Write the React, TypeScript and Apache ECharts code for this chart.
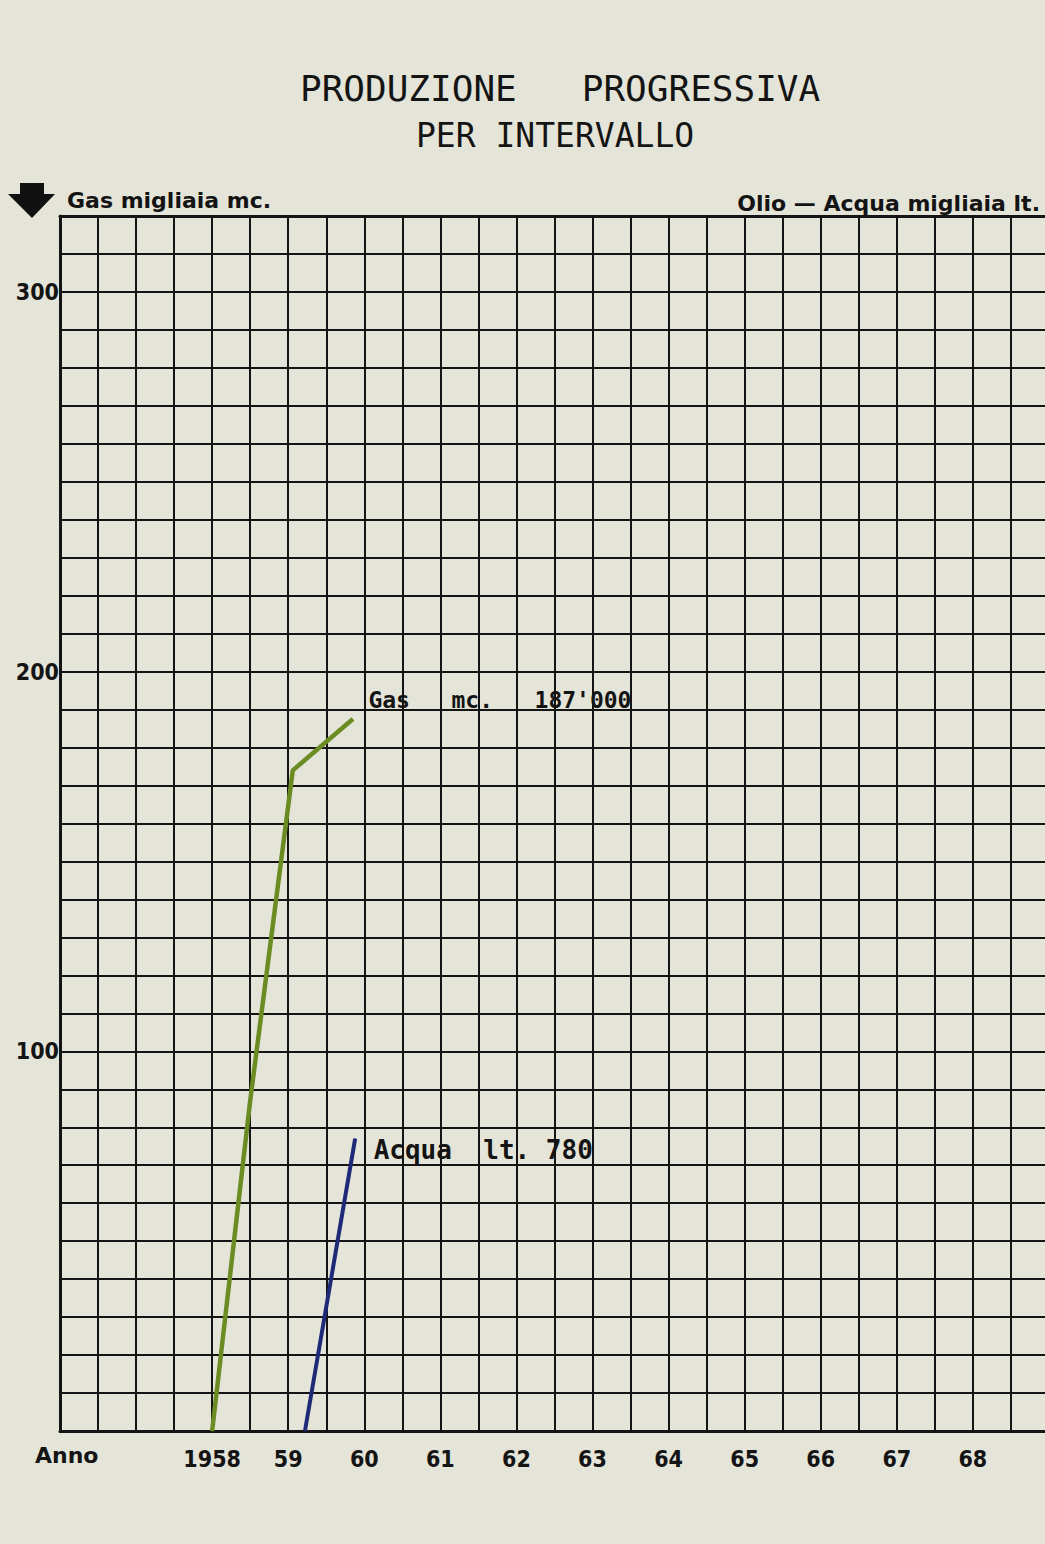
import React, { useEffect, useRef } from "react";
import * as echarts from "echarts";

// Years on the horizontal axis and their printed labels
const years = [1958, 1959, 1960, 1961, 1962, 1963, 1964, 1965, 1966, 1967, 1968];
const yearLabels = ["1958", "59", "60", "61", "62", "63", "64", "65", "66", "67", "68"];
// Printed labels on the vertical axis (migliaia)
const yTickLabels = [100, 200, 300];

// Gas — cumulative production (migliaia mc.)
const gasX = [1958, 1958.5, 1959.06, 1959.85];
const gasY = [0, 87, 174, 187.5];
const gasLabel = "Gas   mc.   187'000";

// Acqua — cumulative production
const acquaX = [1959.22, 1959.88];
const acquaY = [0, 77];
const acquaLabel = "Acqua  lt. 780";

const titleLine1 = "PRODUZIONE   PROGRESSIVA";
const titleLine2 = "PER INTERVALLO";
const leftAxisName = "Gas migliaia mc.";
const rightAxisName = "Olio — Acqua migliaia lt.";
const xAxisName = "Anno";

const INK = "#141414";
const PAPER = "#e4e4d8";

function buildSeriesData(xs: number[], ys: number[], label: string, offset: number[], fontSize: number) {
  return xs.map((x, i) => {
    if (i === xs.length - 1) {
      return {
        value: [x, ys[i]],
        label: {
          show: true,
          formatter: label,
          position: "right",
          distance: 5,
          offset,
          fontFamily: "DejaVu Sans Mono",
          fontWeight: "bold",
          fontSize,
          color: INK,
        },
      };
    }
    return { value: [x, ys[i]] };
  });
}

export default function App() {
  const ref = useRef<HTMLDivElement>(null);

  useEffect(() => {
    if (!ref.current) return;
    const chart = echarts.init(ref.current, undefined, { renderer: "svg" });

    const axisFont = {
      fontFamily: "DejaVu Sans Condensed, DejaVu Sans",
      fontWeight: "bold" as const,
      fontSize: 23,
      color: INK,
    };

    const option: any = {
      animation: false,
      backgroundColor: PAPER,
      grid: { left: 60, top: 216, width: 1065, height: 1215, containLabel: false },
      xAxis: [
        {
          type: "value",
          min: 1956,
          max: 1970,
          interval: 0.5,
          position: "bottom",
          axisLine: { show: true, lineStyle: { color: INK, width: 3 } },
          axisTick: { show: false },
          splitLine: { show: true, lineStyle: { color: INK, width: 2 } },
          axisLabel: {
            ...axisFont,
            margin: 16,
            formatter: (v: number) => {
              const i = years.findIndex((y) => Math.abs(y - v) < 1e-6);
              return i >= 0 ? yearLabels[i] : "";
            },
          },
        },
        {
          type: "value",
          min: 1956,
          max: 1970,
          interval: 0.5,
          position: "top",
          axisLine: { show: true, lineStyle: { color: INK, width: 3 } },
          axisTick: { show: false },
          axisLabel: { show: false },
          splitLine: { show: false },
        },
      ],
      yAxis: {
        type: "value",
        min: 0,
        max: 320,
        interval: 10,
        name: leftAxisName,
        nameLocation: "end",
        nameGap: 16,
        nameTextStyle: {
          align: "left",
          verticalAlign: "middle",
          fontFamily: "DejaVu Sans",
          fontWeight: "bold",
          fontSize: 22,
          color: INK,
          padding: [0, 0, 0, 7],
        },
        axisLine: { show: true, lineStyle: { color: INK, width: 3 } },
        axisTick: { show: false },
        splitLine: { show: true, lineStyle: { color: INK, width: 2 } },
        axisLabel: {
          ...axisFont,
          margin: 1,
          formatter: (v: number) => (yTickLabels.includes(v) ? String(v) : ""),
        },
      },
      series: [
        {
          name: "Gas",
          type: "line",
          xAxisIndex: 0,
          symbol: "circle",
          symbolSize: 1,
          showSymbol: true,
          lineStyle: { color: "#6a8c22", width: 4.5 },
          itemStyle: { color: "#6a8c22" },
          z: 5,
          data: buildSeriesData(gasX, gasY, gasLabel, [10, -19], 23),
        },
        {
          name: "Acqua",
          type: "line",
          xAxisIndex: 0,
          symbol: "circle",
          symbolSize: 1,
          showSymbol: true,
          lineStyle: { color: "#1e2a78", width: 4 },
          itemStyle: { color: "#1e2a78" },
          z: 5,
          data: buildSeriesData(acquaX, acquaY, acquaLabel, [13, 11], 26),
        },
      ],
      graphic: [
        {
          type: "text",
          left: 300,
          top: 70,
          style: {
            text: titleLine1,
            fontFamily: "DejaVu Sans Mono",
            fontSize: 36,
            fill: INK,
          },
        },
        {
          type: "text",
          left: 416,
          top: 119,
          style: {
            text: titleLine2,
            fontFamily: "DejaVu Sans Mono",
            fontSize: 33,
            fill: INK,
          },
        },
        {
          type: "polygon",
          shape: {
            points: [
              [20, 183],
              [44, 183],
              [44, 194],
              [55, 194],
              [32, 218],
              [8, 194],
              [20, 194],
            ],
          },
          style: { fill: "#111" },
        },
        {
          type: "text",
          x: 1040,
          y: 203,
          style: {
            text: rightAxisName,
            align: "right",
            verticalAlign: "middle",
            fontFamily: "DejaVu Sans",
            fontWeight: "bold",
            fontSize: 22,
            fill: INK,
          },
        },
        {
          type: "text",
          x: 35,
          y: 1455,
          style: {
            text: xAxisName,
            align: "left",
            verticalAlign: "middle",
            fontFamily: "DejaVu Sans",
            fontWeight: "bold",
            fontSize: 22,
            fill: INK,
          },
        },
      ],
    };

    chart.setOption(option);
    return () => chart.dispose();
  }, []);

  return (
    <div
      style={{
        position: "fixed",
        left: 0,
        top: 0,
        width: 1045,
        height: 1544,
        overflow: "hidden",
        background: PAPER,
      }}
    >
      <div ref={ref} style={{ width: 1140, height: 1544 }} />
    </div>
  );
}
